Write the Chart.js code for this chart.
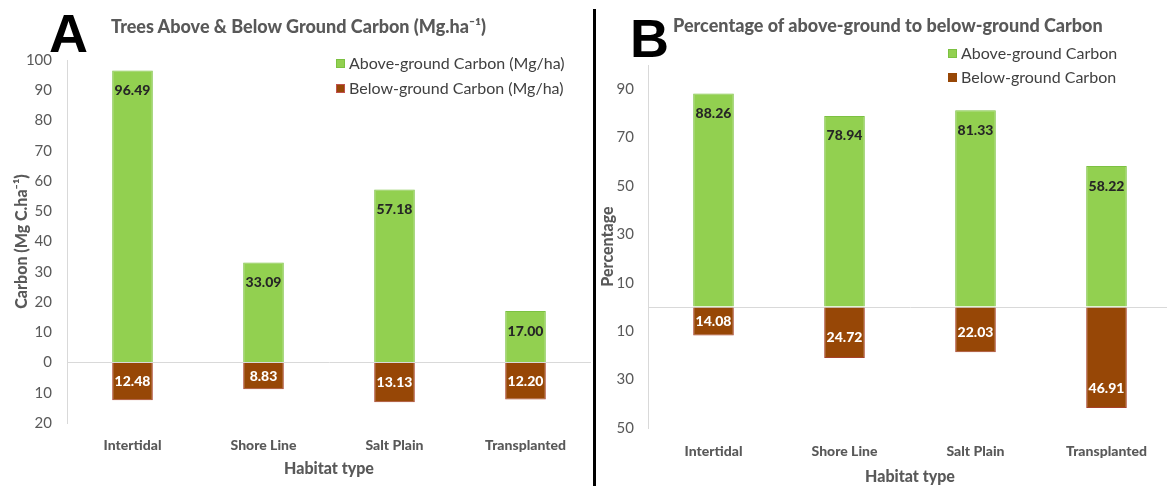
<!DOCTYPE html>
<html><head><meta charset="utf-8">
<script src="https://cdn.jsdelivr.net/npm/chart.js@4"></script>
<style>
html,body{margin:0;padding:0;width:1167px;height:486px;overflow:hidden;background:#fff;font-family:Lato,sans-serif;}
#wrapA{position:absolute;left:0;top:0;width:593px;height:486px;}
#wrapB{position:absolute;left:596px;top:0;width:576px;height:486px;}
.divider{position:absolute;left:593px;top:9px;width:3px;height:477px;background:#000;}
.letter{position:absolute;font-family:"Liberation Sans",Arial,sans-serif;font-weight:bold;font-size:54px;line-height:54px;color:#000;}
.title{position:absolute;font-weight:900;font-size:18px;line-height:20px;color:#595959;white-space:nowrap;transform:translateY(-50%);}
.leg{position:absolute;font-size:16px;line-height:20px;color:#404040;white-space:nowrap;transform:translateY(-50%);display:flex;align-items:center;}
.sw{width:7px;height:7px;margin-right:4px;display:inline-block;border:1px solid;}
</style>
</head>
<body>
<div id="wrapA"><canvas id="chartA"></canvas></div>
<div id="wrapB"><canvas id="chartB"></canvas></div>
<div class="divider"></div>
<div class="letter" style="left:49px;top:6px;">A</div>
<div class="letter" style="left:630px;top:11px;">B</div>
<div class="title" style="left:111px;top:26px;">Trees Above &amp; Below Ground Carbon (Mg.ha⁻¹)</div>
<div class="title" style="left:673px;top:25px;">Percentage of above-ground to below-ground Carbon</div>
<div class="leg" style="left:336px;top:63px;"><span class="sw" style="background:#92D050;border-color:#7CC142"></span>Above-ground Carbon (Mg/ha)</div>
<div class="leg" style="left:336px;top:88px;"><span class="sw" style="background:#974706;border-color:#C0504D"></span>Below-ground Carbon (Mg/ha)</div>
<div class="leg" style="left:948px;top:53px;"><span class="sw" style="background:#92D050;border-color:#7CC142"></span>Above-ground Carbon</div>
<div class="leg" style="left:948px;top:77px;"><span class="sw" style="background:#974706;border-color:#974706"></span>Below-ground Carbon</div>
<script>
// ---- data ----
const categories = ['Intertidal', 'Shore Line', 'Salt Plain', 'Transplanted'];
// Panel A: carbon stock (Mg/ha)
const aboveA = [96.49, 33.09, 57.18, 17.00];
const belowA = [12.48, 8.83, 13.13, 12.20];
const ticksA = [-20, -10, 0, 10, 20, 30, 40, 50, 60, 70, 80, 90, 100];
// Panel B: percentages (bar lengths as drawn, and printed labels)
const aboveB = [88.26, 78.94, 81.33, 58.22];
const belowB = [11.74, 21.06, 18.67, 41.78];
const aboveBLabels = ['88.26', '78.94', '81.33', '58.22'];
const belowBLabels = ['14.08', '24.72', '22.03', '46.91'];
const ticksB = [-50, -30, -10, 10, 30, 50, 70, 90];

const GREEN = '#92D050', GREEN_B = '#7CC142', BROWN = '#974706', BROWN_B = '#A8402A';
const GREY = '#595959';

const valueLabels = {
  id: 'valueLabels',
  afterDatasetsDraw(chart) {
    const ctx = chart.ctx;
    chart.data.datasets.forEach((ds, i) => {
      const meta = chart.getDatasetMeta(i);
      meta.data.forEach((el, j) => {
        const txt = ds.labelTexts[j];
        const h = Math.abs(el.base - el.y);
        const dir = el.y < el.base ? 1 : -1;
        const y = h < 38 ? (el.y + el.base) / 2 : el.y + dir * 20;
        ctx.save();
        ctx.font = '900 14px Lato';
        ctx.fillStyle = ds.labelColor;
        ctx.textAlign = 'center';
        ctx.textBaseline = 'middle';
        ctx.fillText(txt, el.x, y);
        ctx.restore();
      });
    });
  }
};

function makeChart(id, cfg) {
  return new Chart(document.getElementById(id), {
    type: 'bar',
    data: {
      labels: categories,
      datasets: [
        { label: cfg.aboveName, data: cfg.above, backgroundColor: GREEN, borderColor: GREEN_B, borderWidth: 1,
          labelTexts: cfg.aboveLabels, labelColor: '#262626', barPercentage: 0.31, categoryPercentage: 1 },
        { label: cfg.belowName, data: cfg.below.map(v => -v), backgroundColor: BROWN, borderColor: BROWN_B, borderWidth: 1,
          labelTexts: cfg.belowLabels, labelColor: '#ffffff', barPercentage: 0.31, categoryPercentage: 1 }
      ]
    },
    options: {
      responsive: true, maintainAspectRatio: false, animation: false,
      layout: { padding: cfg.padding },
      plugins: { legend: { display: false }, tooltip: { enabled: false } },
      scales: {
        x: {
          stacked: true,
          grid: { display: false }, border: { display: false },
          afterFit: s => { s.height = cfg.xHeight; },
          ticks: { padding: cfg.xTickPad, color: GREY, font: { family: 'Lato', size: 14, weight: '900' }, maxRotation: 0 },
          title: { display: true, text: 'Habitat type', color: GREY, font: { family: 'Lato', size: 16, weight: '900' },
                   padding: { top: 0, bottom: cfg.xTitlePad } }
        },
        y: {
          stacked: true, min: cfg.min, max: cfg.max,
          afterBuildTicks: s => {
            const vals = cfg.ticks.includes(0) ? cfg.ticks.slice() : cfg.ticks.concat([0]);
            vals.sort((a, b) => a - b);
            s.ticks = vals.map(v => ({ value: v }));
          },
          afterFit: s => { s.width = cfg.yWidth; },
          grid: { drawTicks: false, lineWidth: 1,
                  color: c => (c.tick && c.tick.value === 0) ? '#D9D9D9' : 'rgba(0,0,0,0)' },
          border: { display: true, color: '#D9D9D9', width: 1 },
          ticks: { padding: cfg.yTickPad, color: GREY, font: { family: 'Lato', size: 15 },
                   callback: v => cfg.ticks.includes(v) ? String(Math.abs(v)) : '' },
          title: { display: true, text: cfg.yTitle, color: GREY, font: { family: 'Lato', size: 16, weight: '900' },
                   padding: { top: cfg.yTitlePad, bottom: 0 } }
        }
      }
    },
    plugins: [valueLabels]
  });
}

function draw() {
  makeChart('chartA', {
    aboveName: 'Above-ground Carbon (Mg/ha)', belowName: 'Below-ground Carbon (Mg/ha)',
    above: aboveA, below: belowA,
    aboveLabels: aboveA.map(v => v.toFixed(2)), belowLabels: belowA.map(v => v.toFixed(2)),
    min: -20, max: 100, ticks: ticksA,
    padding: { top: 60, right: 2, left: 0, bottom: 0 },
    xHeight: 63, xTickPad: 6, xTitlePad: 8,
    yWidth: 67, yTickPad: 15, yTitlePad: 12,
    yTitle: 'Carbon (Mg C.ha⁻¹)'
  });
  makeChart('chartB', {
    aboveName: 'Above-ground Carbon', belowName: 'Below-ground Carbon',
    above: aboveB, below: belowB,
    aboveLabels: aboveBLabels, belowLabels: belowBLabels,
    min: -50, max: 100, ticks: ticksB,
    padding: { top: 65, right: 0, left: 0, bottom: 0 },
    xHeight: 58, xTickPad: 7, xTitlePad: 0,
    yWidth: 52, yTickPad: 14, yTitlePad: 2,
    yTitle: 'Percentage'
  });
}

const fontLoads = ['14px Lato', 'bold 14px Lato', '900 14px Lato'].map(f => document.fonts.load(f).catch(() => null));
Promise.race([Promise.all(fontLoads), new Promise(r => setTimeout(r, 800))]).then(draw);
</script>
</body></html>
